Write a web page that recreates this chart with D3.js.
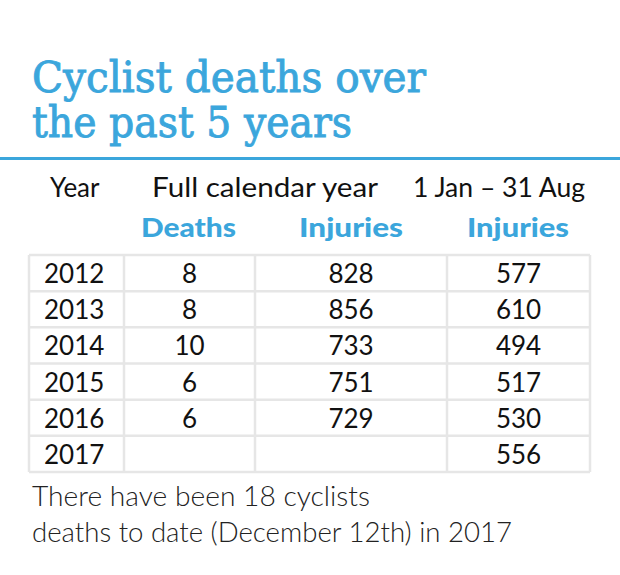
<!DOCTYPE html>
<html>
<head>
<meta charset="utf-8">
<script src="https://cdn.jsdelivr.net/npm/d3@7"></script>
<style>
  html, body { margin: 0; padding: 0; background: #fff; }
  svg { display: block; }
</style>
</head>
<body>
<div id="chart"></div>
<script>
// ---- data ----
const titleLines = ["Cyclist deaths over", "the past 5 years"];
const years = ["2012", "2013", "2014", "2015", "2016", "2017"];
const deaths = [8, 8, 10, 6, 6, null];
const injuriesFullYear = [828, 856, 733, 751, 729, null];
const injuriesJanAug = [577, 610, 494, 517, 530, 556];
const groupHeaders = ["Year", "Full calendar year", "1 Jan – 31 Aug"];
const columnHeaders = ["Deaths", "Injuries", "Injuries"];
const footnoteLines = ["There have been 18 cyclists", "deaths to date (December 12th) in 2017"];

// ---- layout ----
const W = 620, H = 575;
const blue = "#3ba6dc";
const gridColor = "#e6e6e6";
const sans = "Lato, 'Open Sans', 'DejaVu Sans', sans-serif";

const svg = d3.select("#chart").append("svg")
  .attr("width", W).attr("height", H);

// Title
const title = svg.append("g");
const titleBaselines = [92, 137];
const titleWidths = [394, 320];
titleLines.forEach((t, i) => {
  title.append("text")
    .attr("x", 32).attr("y", titleBaselines[i])
    .attr("font-family", "'DejaVu Serif', serif")
    .attr("font-size", 42)
    .attr("fill", blue)
    .attr("stroke", blue).attr("stroke-width", 0.9)
    .attr("textLength", titleWidths[i])
    .attr("lengthAdjust", "spacingAndGlyphs")
    .text(t);
});
svg.append("rect")
  .attr("x", 0).attr("y", 157).attr("width", W).attr("height", 3)
  .attr("fill", blue);

// Table scales
const colEdges = [29, 124, 255, 447, 590];
const cols = ["year", "deaths", "full", "aug"];
const x = d3.scaleOrdinal().domain(cols).range(colEdges.slice(0, 4));
const colWidth = c => colEdges[cols.indexOf(c) + 1] - colEdges[cols.indexOf(c)];
const y = d3.scaleBand().domain(years).range([255, 472]).paddingInner(0);

const rows = years.map((yr, i) => ({
  year: yr, deaths: deaths[i], full: injuriesFullYear[i], aug: injuriesJanAug[i]
}));

// Group headers
svg.append("text").attr("x", 50).attr("y", 197)
  .attr("font-family", sans).attr("font-size", 26).attr("fill", "#111")
  .text(groupHeaders[0]);
svg.append("text").attr("x", 152).attr("y", 197)
  .attr("font-family", sans).attr("font-size", 26).attr("fill", "#111")
  .attr("textLength", 226).attr("lengthAdjust", "spacingAndGlyphs")
  .text(groupHeaders[1]);
svg.append("text").attr("x", 413).attr("y", 197)
  .attr("font-family", sans).attr("font-size", 26).attr("fill", "#111")
  .attr("textLength", 172).attr("lengthAdjust", "spacingAndGlyphs")
  .text(groupHeaders[2]);

// Column headers (blue bold)
const headerCols = ["deaths", "full", "aug"];
const headerStarts = [141, 299, 467];
const headerWidths = [95, 104, 102];
headerCols.forEach((c, i) => {
  svg.append("text")
    .attr("x", headerStarts[i]).attr("y", 237)
    .attr("font-family", sans).attr("font-weight", 900)
    .attr("font-size", 27).attr("fill", blue)
    .attr("textLength", headerWidths[i]).attr("lengthAdjust", "spacingAndGlyphs")
    .text(columnHeaders[i]);
});

// Grid
const grid = svg.append("g").attr("stroke", gridColor).attr("stroke-width", 2.5).attr("fill", "none");
y.domain().concat([null]).forEach((yr, i) => {
  const yy = i < years.length ? y(yr) : y.range()[1];
  grid.append("line").attr("x1", colEdges[0]).attr("x2", colEdges[4]).attr("y1", yy).attr("y2", yy);
});
colEdges.forEach(cx => {
  grid.append("line").attr("x1", cx).attr("x2", cx).attr("y1", y.range()[0]).attr("y2", y.range()[1]);
});

// Cells
const rowG = svg.selectAll("g.row").data(rows).join("g").attr("class", "row")
  .attr("transform", d => `translate(0,${y(d.year) + y.bandwidth() / 2 + 10})`);
rowG.append("text").attr("x", 44)
  .attr("font-family", sans).attr("font-size", 26).attr("fill", "#111")
  .text(d => d.year);
["deaths", "full", "aug"].forEach(c => {
  rowG.append("text")
    .attr("x", x(c) + colWidth(c) / 2)
    .attr("text-anchor", "middle")
    .attr("font-family", sans).attr("font-size", 26).attr("fill", "#111")
    .text(d => d[c] == null ? "" : d[c]);
});

// Footnote
const footWidths = [338, 480];
footnoteLines.forEach((t, i) => {
  svg.append("text")
    .attr("x", 32).attr("y", 506 + i * 36)
    .attr("font-family", sans).attr("font-weight", 300)
    .attr("font-size", 28).attr("fill", "#222")
    .attr("textLength", footWidths[i]).attr("lengthAdjust", "spacingAndGlyphs")
    .text(t);
});
</script>
</body>
</html>
